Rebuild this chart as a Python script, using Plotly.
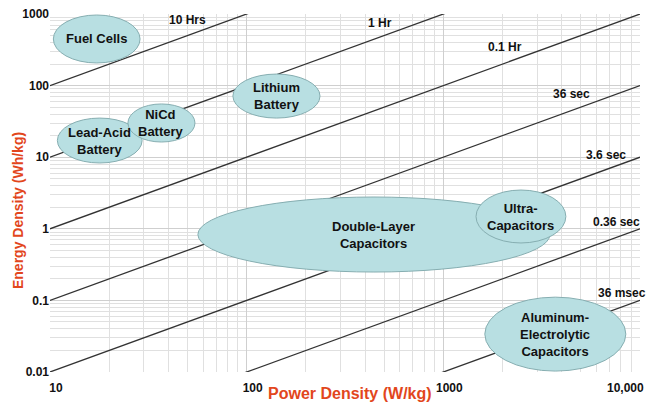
import math
import plotly.graph_objects as go

# ---- data ----
# constant-time lines: E = t * P (t in hours)
line_hours = [10, 1, 0.1, 0.01, 0.001, 0.0001, 0.00001]
line_labels = ["10 Hrs", "1 Hr", "0.1 Hr", "36 sec", "3.6 sec", "0.36 sec", "36 msec"]
label_x = [50, 476, 2056, 4508, 6714, 7550, 8090]
label_y = [824, 748, 346, 76.4, 10.7, 1.24, 0.127]

# technology regions (ellipse bounds in W/kg and Wh/kg)
regions = ["Fuel Cells", "Lead-Acid<br>Battery", "NiCd<br>Battery", "Lithium<br>Battery",
           "Double-Layer<br>Capacitors", "Ultra-<br>Capacitors",
           "Aluminum-<br>Electrolytic<br>Capacitors"]
p_min = [10.4, 10.9, 24.9, 85.1, 56.5, 1466, 1625]
p_max = [28.7, 29.4, 54.6, 236, 3483, 4198, 8472]
e_min = [207, 8.3, 16.3, 35.2, 0.249, 0.634, 0.0103]
e_max = [968, 35.2, 55.4, 145, 2.78, 3.48, 0.111]

x_tickvals = [10, 100, 1000, 10000]
x_ticktext = ["10", "100", "1000", ""]
x_last_label = "10,000"   # drawn right-aligned at the window edge, as in the reference
y_tickvals = [0.01, 0.1, 1, 10, 100, 1000]
y_ticktext = ["0.01", "0.1", "1", "10", "100", "1000"]

P_RANGE = [10, 10000]

FONT = "Liberation Sans, Arial, sans-serif"
TITLE_COLOR = "#e2461c"
TICKFONT = dict(family=FONT, size=12, color="#111111", weight="bold")
L = math.log10

fig = go.Figure()

for t in line_hours:
    fig.add_trace(go.Scatter(
        x=P_RANGE, y=[t * p for p in P_RANGE], mode="lines",
        line=dict(color="#333333", width=1.3), hoverinfo="skip", showlegend=False))

for name, x0, x1, y0, y1 in zip(regions, p_min, p_max, e_min, e_max):
    fig.add_shape(type="circle", xref="x", yref="y", x0=x0, x1=x1, y0=y0, y1=y1,
                  fillcolor="#b8dfe2", line=dict(color="#86aeb1", width=1), layer="above")
    fig.add_annotation(x=(L(x0) + L(x1)) / 2, y=(L(y0) + L(y1)) / 2, xref="x", yref="y",
                       text=name, showarrow=False,
                       font=dict(family=FONT, size=13, color="#111111", weight="bold"))

for txt, lx, ly in zip(line_labels, label_x, label_y):
    fig.add_annotation(x=L(lx), y=L(ly), xref="x", yref="y", text=txt, showarrow=False,
                       font=dict(family=FONT, size=12, color="#111111", weight="bold"))

fig.add_annotation(xref="x", yref="paper", x=L(x_tickvals[-1]), y=0, text=x_last_label,
                   showarrow=False, xanchor="right", yanchor="middle", xshift=6, yshift=-16,
                   font=TICKFONT)

fig.add_annotation(xref="paper", yref="paper", x=-0.054, y=0.45, text="Energy Density (Wh/kg)",
                   textangle=-90, showarrow=False, xanchor="center", yanchor="middle",
                   font=dict(family=FONT, size=14, color=TITLE_COLOR, weight="bold"))
fig.add_annotation(xref="paper", yref="paper", x=0.508, y=-0.059, text="Power Density (W/kg)",
                   showarrow=False, xanchor="center", yanchor="middle",
                   font=dict(family=FONT, size=16, color=TITLE_COLOR, weight="bold"))

fig.update_xaxes(type="log", range=[1, 4], tickmode="array", tickvals=x_tickvals,
                 ticktext=x_ticktext, showgrid=True, gridcolor="#cfcfcf", gridwidth=1,
                 minor=dict(dtick="D1", showgrid=True, gridcolor="#e0e0e0", ticks=""),
                 zeroline=False, showline=False, ticks="", automargin=False,
                 ticklabelshift=6, ticklabelstandoff=7, ticklabeloverflow="allow",
                 tickfont=TICKFONT)
fig.update_yaxes(type="log", range=[-2, 3], tickmode="array", tickvals=y_tickvals,
                 ticktext=y_ticktext, showgrid=True, gridcolor="#cfcfcf", gridwidth=1,
                 minor=dict(dtick="D1", showgrid=True, gridcolor="#e0e0e0", ticks=""),
                 zeroline=False, showline=False, ticks="", automargin=False,
                 ticklabeloverflow="allow", tickfont=TICKFONT)

fig.update_layout(width=646, height=405, margin=dict(l=50, r=6, t=14, b=33, autoexpand=False),
                  paper_bgcolor="white", plot_bgcolor="white", showlegend=False)

# remove the page's default body margin so the figure fills the 646x405 window exactly
fig.write_html("out.html", config={"displayModeBar": False},
               post_script="document.body.style.margin='0';document.body.style.overflow='hidden';")
